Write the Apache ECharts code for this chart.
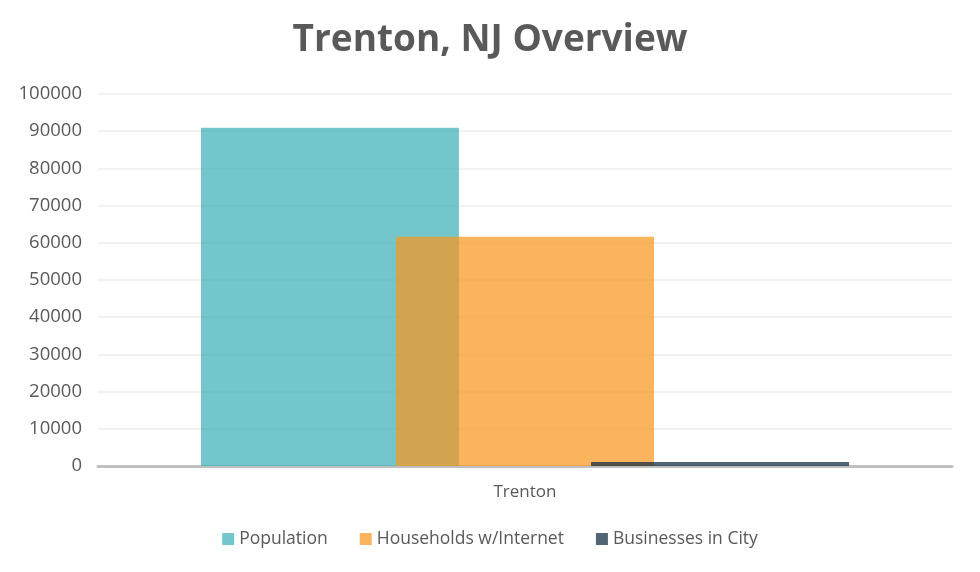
<!DOCTYPE html>
<html>
<head>
<meta charset="utf-8">
<script src="https://cdn.jsdelivr.net/npm/echarts@6/dist/echarts.min.js"></script>
<style>
  html, body { margin: 0; padding: 0; background: #fff; }
  #chart { width: 980px; height: 572px; }
</style>
</head>
<body>
<div id="chart"></div>
<script>
const categories = ["Trenton"];
const seriesNames = ["Population", "Households w/Internet", "Businesses in City"];
const population = [90900];
const households = [61600];
const businesses = [1100];
const colors = ["#3eb0ba", "#f8971f", "#0f2a40"];

const chart = echarts.init(document.getElementById("chart"));

const values = [population, households, businesses];

chart.setOption({
  backgroundColor: "#ffffff",
  title: {
    text: "Trenton, NJ Overview",
    left: "center",
    top: 17,
    textStyle: {
      fontFamily: "Open Sans",
      fontWeight: "bold",
      fontSize: 37,
      color: "#595959",
    },
  },
  legend: {
    data: seriesNames,
    bottom: 19,
    left: "center",
    itemWidth: 12,
    itemHeight: 12,
    itemGap: 32,
    icon: "rect",
    textStyle: {
      fontFamily: "Open Sans",
      fontSize: 17.5,
      color: "#595959",
    },
  },
  grid: {
    top: 94,
    left: 98,
    right: 28,
    bottom: 106,
  },
  xAxis: {
    type: "category",
    data: categories,
    axisLine: { lineStyle: { color: "#bfbfbf", width: 3 } },
    axisTick: { show: false },
    axisLabel: {
      fontFamily: "Open Sans",
      fontSize: 17,
      color: "#595959",
      margin: 18,
    },
  },
  yAxis: {
    type: "value",
    min: 0,
    max: 100000,
    interval: 10000,
    axisLine: { show: false },
    axisTick: { show: false },
    axisLabel: {
      fontFamily: "Open Sans",
      fontSize: 18.5,
      color: "#595959",
      margin: 16,
      formatter: (v) => String(v),
    },
    splitLine: { lineStyle: { color: "#ececec", width: 1.5 } },
  },
  series: seriesNames.map((name, i) => ({
    name: name,
    type: "bar",
    data: values[i],
    barWidth: 258,
    barGap: "-24.4%",
    itemStyle: { color: colors[i], opacity: 0.72 },
  })),
});
</script>
</body>
</html>
